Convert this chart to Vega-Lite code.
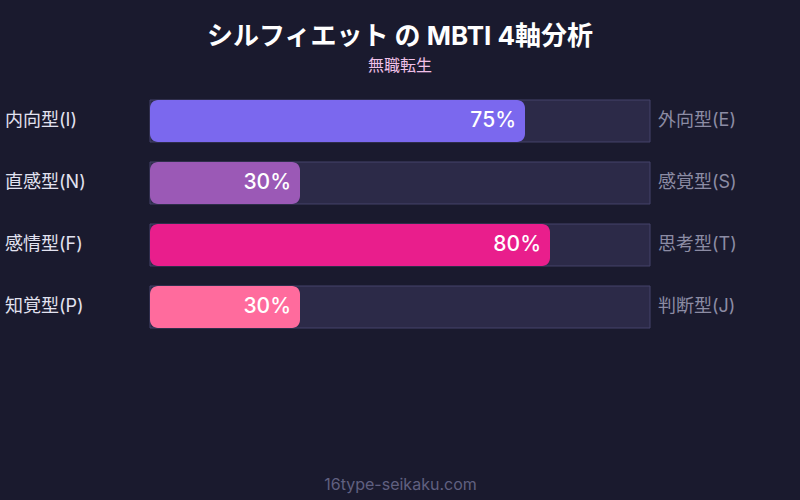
{
  "$schema": "https://vega.github.io/schema/vega-lite/v6.json",
  "description": "MBTI 4-axis bar chart",
  "width": 800,
  "height": 420,
  "autosize": "none",
  "padding": {"top": 80, "left": 0, "right": 0, "bottom": 0},
  "background": "#1a1a2e",
  "title": {
    "text": "シルフィエット の MBTI 4軸分析",
    "subtitle": "無職転生",
    "anchor": "middle",
    "frame": "group",
    "offset": 6,
    "font": "Inter, Noto Sans CJK JP",
    "fontSize": 26,
    "fontWeight": "bold",
    "color": "#ffffff",
    "subtitleFont": "Inter, Noto Sans CJK JP",
    "subtitleFontSize": 16,
    "subtitleColor": "#f0c0e8",
    "subtitlePadding": 8
  },
  "config": {"view": {"stroke": null}},
  "data": {
    "values": [
      {"axis": "EI", "left": "内向型(I)", "right": "外向型(E)", "value": 75, "color": "#7b68ee"},
      {"axis": "NS", "left": "直感型(N)", "right": "感覚型(S)", "value": 30, "color": "#9b59b6"},
      {"axis": "FT", "left": "感情型(F)", "right": "思考型(T)", "value": 80, "color": "#e91e8c"},
      {"axis": "PJ", "left": "知覚型(P)", "right": "判断型(J)", "value": 30, "color": "#ff6b9d"}
    ]
  },
  "transform": [{"calculate": "datum.value + '%'", "as": "label"}],
  "encoding": {
    "y": {
      "field": "axis",
      "type": "nominal",
      "sort": null,
      "scale": {"range": [20, 248], "paddingInner": 0.3226, "paddingOuter": 0},
      "axis": null
    }
  },
  "layer": [
    {
      "mark": {"type": "bar", "fill": "#2c2a48", "stroke": "#44426a", "strokeWidth": 1},
      "encoding": {
        "x": {
          "datum": 100,
          "type": "quantitative",
          "scale": {"domain": [-30, 130], "nice": false},
          "axis": {
            "orient": "bottom",
            "offset": -16,
            "labels": false,
            "ticks": false,
            "domain": false,
            "grid": false,
            "title": "16type-seikaku.com",
            "titleFont": "Inter",
            "titleFontSize": 16,
            "titleFontWeight": "normal",
            "titleColor": "#606080",
            "titlePadding": 0,
            "titleBaseline": "middle"
          }
        }
      }
    },
    {
      "mark": {"type": "bar", "cornerRadius": 8},
      "encoding": {
        "x": {"field": "value", "type": "quantitative"},
        "color": {"field": "color", "type": "nominal", "scale": null}
      }
    },
    {
      "mark": {"type": "text", "align": "right", "dx": -9, "font": "Inter", "fontSize": 21, "fontWeight": 500, "color": "#ffffff"},
      "encoding": {
        "x": {"field": "value", "type": "quantitative"},
        "text": {"field": "label", "type": "nominal"}
      }
    },
    {
      "mark": {"type": "text", "align": "left", "font": "Inter, Noto Sans CJK JP", "fontSize": 18, "color": "#e2e2f0"},
      "encoding": {
        "x": {"datum": -29, "type": "quantitative"},
        "text": {"field": "left", "type": "nominal"}
      }
    },
    {
      "mark": {"type": "text", "align": "left", "font": "Inter, Noto Sans CJK JP", "fontSize": 18, "color": "#8c8ca4"},
      "encoding": {
        "x": {"datum": 101.6, "type": "quantitative"},
        "text": {"field": "right", "type": "nominal"}
      }
    }
  ]
}
